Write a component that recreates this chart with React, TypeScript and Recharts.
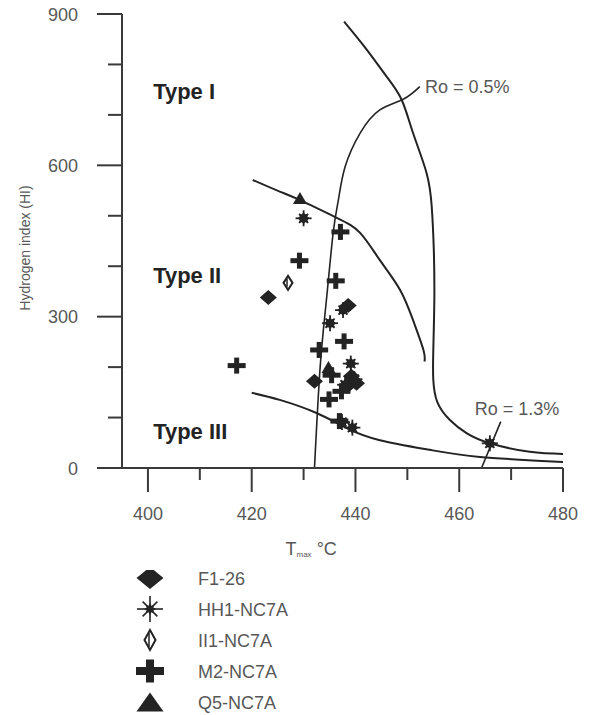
import React from "react"
import {
  ComposedChart,
  Line,
  Scatter,
  XAxis,
  YAxis,
  ReferenceDot,
} from "recharts"

// axis ticks
const X_TICKS = [400, 410, 420, 430, 440, 450, 460, 470, 480]
const Y_TICKS = [0, 100, 200, 300, 400, 500, 600, 700, 800, 900]

// boundary curves (Tmax, HI)
const typeOneCurve = [
  { x: 437.8, y: 885 }, { x: 442.2, y: 829 }, { x: 446, y: 776 }, { x: 448.9, y: 730 },
  { x: 451.1, y: 664 }, { x: 453.7, y: 585 }, { x: 454.7, y: 518 }, { x: 455.1, y: 432 },
  { x: 455.2, y: 333 }, { x: 455.0, y: 234 }, { x: 455.0, y: 175 }, { x: 455.8, y: 130 },
  { x: 458.2, y: 95 }, { x: 461.4, y: 69 }, { x: 465.9, y: 49 }, { x: 473.6, y: 32 },
  { x: 480, y: 28 },
]
const typeTwoCurve = [
  { x: 420.2, y: 571 }, { x: 425.4, y: 548 }, { x: 429.3, y: 531 }, { x: 436.4, y: 496 },
  { x: 440.9, y: 466 }, { x: 444.7, y: 412 }, { x: 448.6, y: 353 }, { x: 451.1, y: 293 },
  { x: 453.1, y: 234 }, { x: 453.3, y: 211 },
]
const typeThreeCurve = [
  { x: 420, y: 149 }, { x: 425.4, y: 135 }, { x: 432.5, y: 109 }, { x: 438.3, y: 79 },
  { x: 444.7, y: 55 }, { x: 454.3, y: 36 }, { x: 464, y: 22 }, { x: 480, y: 12 },
]
const roLowCurve = [
  { x: 432.1, y: 0 }, { x: 433.2, y: 201 }, { x: 434.4, y: 333 }, { x: 435.7, y: 466 },
  { x: 436.7, y: 531 }, { x: 438, y: 597 }, { x: 440.9, y: 664 }, { x: 444.7, y: 710 },
  { x: 449.2, y: 731 }, { x: 452.4, y: 756 },
]
const roHighLine = [{ x: 464.3, y: 0 }, { x: 468, y: 92 }]

// samples
const f1_26 = [
  { x: 423.2, y: 338 }, { x: 438.6, y: 322 }, { x: 432.1, y: 172 },
  { x: 439.2, y: 182 }, { x: 438.4, y: 162 }, { x: 440.2, y: 168 },
]
const hh1 = [
  { x: 430, y: 495 }, { x: 437.6, y: 313 }, { x: 435.1, y: 287 }, { x: 439.1, y: 207 },
  { x: 439.8, y: 176 }, { x: 438, y: 165 }, { x: 437.4, y: 91 }, { x: 439.4, y: 80 },
  { x: 465.9, y: 49 },
]
const ii1 = [{ x: 427, y: 367 }]
const m2 = [
  { x: 437.1, y: 468 }, { x: 429.2, y: 411 }, { x: 436.2, y: 371 }, { x: 437.8, y: 251 },
  { x: 433, y: 234 }, { x: 417.1, y: 203 }, { x: 435.4, y: 184 }, { x: 437.3, y: 152 },
  { x: 434.9, y: 136 }, { x: 436.9, y: 93 },
]
const q5 = [{ x: 429.3, y: 535 }, { x: 434.8, y: 200 }]

const typeLabels = [
  { text: "Type I", x: 401, y: 732 },
  { text: "Type II", x: 401, y: 367 },
  { text: "Type III", x: 401, y: 57 },
]
const roLabels = [
  { text: "Ro = 0.5%", x: 453.4, y: 743 },
  { text: "Ro = 1.3%", x: 463, y: 105 },
]

const legendNames = ["F1-26", "HH1-NC7A", "II1-NC7A", "M2-NC7A", "Q5-NC7A"]

const INK = "#232323"
const GREY = "#585858"
const FONT = "'Liberation Sans', Arial, sans-serif"

function Diamond({ cx, cy, w, h }: any) {
  return <polygon points={`${cx},${cy - h / 2} ${cx + w / 2},${cy} ${cx},${cy + h / 2} ${cx - w / 2},${cy}`} fill={INK} />
}

function HollowDiamond({ cx, cy, w, h }: any) {
  return (
    <g>
      <polygon
        points={`${cx},${cy - h / 2} ${cx + w / 2},${cy} ${cx},${cy + h / 2} ${cx - w / 2},${cy}`}
        fill="#fff"
        stroke={INK}
        strokeWidth={2}
      />
      <line x1={cx - 1} y1={cy - h / 2 + 3} x2={cx - 1} y2={cy + h / 2 - 3} stroke={INK} strokeWidth={1.5} />
    </g>
  )
}

function Plus({ cx, cy, w, h, t }: any) {
  return (
    <g fill={INK}>
      <rect x={cx - w / 2} y={cy - t / 2} width={w} height={t} />
      <rect x={cx - t / 2} y={cy - h / 2} width={t} height={h} />
    </g>
  )
}

function Triangle({ cx, cy, w, h }: any) {
  return <polygon points={`${cx},${cy - h / 2} ${cx + w / 2},${cy + h / 2} ${cx - w / 2},${cy + h / 2}`} fill={INK} />
}

function Star({ cx, cy, r, core, inner = 0.6, sw = 1.6 }: any) {
  const spokes = []
  for (let i = 0; i < 8; i++) {
    const a = (i * Math.PI) / 4
    const len = i % 2 === 0 ? r : r * 0.8
    spokes.push(
      <line key={i} x1={cx} y1={cy} x2={cx + Math.cos(a) * len} y2={cy + Math.sin(a) * len} stroke={INK} strokeWidth={sw} />
    )
  }
  const pts = []
  for (let i = 0; i < 16; i++) {
    const a = (i * Math.PI) / 8
    const rr = i % 2 === 0 ? core : core * inner
    pts.push(`${cx + Math.cos(a) * rr},${cy + Math.sin(a) * rr}`)
  }
  return (
    <g>
      {spokes}
      <polygon points={pts.join(" ")} fill={INK} />
    </g>
  )
}

function XTick({ x, y, payload }: any) {
  const major = payload.value % 20 === 0
  return (
    <g>
      <line x1={x} x2={x} y1={y} y2={y + (major ? 24 : 12)} stroke="#3a3a3a" strokeWidth={2} />
      {major && (
        <text x={x} y={y + 51.5} textAnchor="middle" fontSize={18} fill={GREY} fontFamily={FONT}>
          {payload.value}
        </text>
      )}
    </g>
  )
}

function YTick({ x, y, payload }: any) {
  const major = payload.value % 300 === 0
  return (
    <g>
      <line x1={x - (major ? 25 : 14)} x2={x} y1={y} y2={y} stroke="#3a3a3a" strokeWidth={2} />
      {major && (
        <text x={x - 44} y={y + 6.5} textAnchor="end" fontSize={18} fill={GREY} fontFamily={FONT}>
          {payload.value}
        </text>
      )}
    </g>
  )
}

const curveProps = {
  dataKey: "y",
  type: "natural" as const,
  stroke: INK,
  strokeWidth: 2,
  dot: false,
  activeDot: false,
  isAnimationActive: false,
}

function LegendMarker({ i, cx, cy }: any) {
  if (i === 0) return <Diamond cx={cx} cy={cy} w={27} h={22} />
  if (i === 1) return <Star cx={cx} cy={cy} r={13} core={6} />
  if (i === 2) return <HollowDiamond cx={cx} cy={cy} w={11} h={20} />
  if (i === 3) return <Plus cx={cx} cy={cy} w={28} h={23} t={8} />
  return <Triangle cx={cx} cy={cy} w={27} h={19} />
}

export default function App() {
  return (
    <div style={{ position: "absolute", left: 0, top: 0, width: 590, height: 715, background: "#fff" }}>
      <ComposedChart width={590} height={570} margin={{ top: 14, right: 27, bottom: 0, left: 0 }}>
        <XAxis
          type="number"
          dataKey="x"
          domain={[395, 480]}
          ticks={X_TICKS}
          allowDataOverflow
          height={102}
          tickSize={0}
          tickMargin={0}
          tickLine={false}
          axisLine={{ stroke: "#3a3a3a", strokeWidth: 2 }}
          tick={(p: any) => <XTick {...p} />}
          interval={0}
          label={{
            content: ({ viewBox }: any) => {
              const cx = viewBox.x + viewBox.width / 2 - 57
              return (
                <text x={cx} y={555} fontSize={18} fill={GREY} fontFamily={FONT}>
                  T
                  <tspan fontSize={8} dy={2}>max</tspan>
                  <tspan dy={-2}> °C</tspan>
                </text>
              )
            },
          }}
        />
        <YAxis
          type="number"
          dataKey="y"
          domain={[0, 900]}
          ticks={Y_TICKS}
          allowDataOverflow
          width={122}
          tickSize={0}
          tickMargin={0}
          tickLine={false}
          axisLine={{ stroke: "#3a3a3a", strokeWidth: 2 }}
          tick={(p: any) => <YTick {...p} />}
          interval={0}
          label={{
            content: () => (
              <text
                x={0}
                y={0}
                transform="translate(30, 248) rotate(-90)"
                textAnchor="middle"
                fontSize={14}
                fill={GREY}
                fontFamily={FONT}
              >
                Hydrogen index (HI)
              </text>
            ),
          }}
        />

        <Line data={typeOneCurve} {...curveProps} />
        <Line data={typeTwoCurve} {...curveProps} />
        <Line data={typeThreeCurve} {...curveProps} />
        <Line data={roLowCurve} {...curveProps} strokeWidth={1.6} />
        <Line data={roHighLine} {...curveProps} type="linear" strokeWidth={1.6} />

        <Scatter data={f1_26} isAnimationActive={false} shape={(p: any) => <Diamond cx={p.cx} cy={p.cy} w={17} h={15} />} />
        <Scatter data={hh1} isAnimationActive={false} shape={(p: any) => <Star cx={p.cx} cy={p.cy} r={8} core={6} inner={0.72} sw={1.8} />} />
        <Scatter data={ii1} isAnimationActive={false} shape={(p: any) => <HollowDiamond cx={p.cx} cy={p.cy} w={9} h={14} />} />
        <Scatter data={m2} isAnimationActive={false} shape={(p: any) => <Plus cx={p.cx} cy={p.cy} w={18} h={16} t={5} />} />
        <Scatter data={q5} isAnimationActive={false} shape={(p: any) => <Triangle cx={p.cx} cy={p.cy} w={14} h={12} />} />

        {typeLabels.map((l) => (
          <ReferenceDot
            key={l.text}
            x={l.x}
            y={l.y}
            r={0}
            ifOverflow="visible"
            shape={(p: any) => (
              <text x={p.cx} y={p.cy} fontSize={22} fontWeight="bold" fill={INK} fontFamily={FONT}>
                {l.text}
              </text>
            )}
          />
        ))}
        {roLabels.map((l) => (
          <ReferenceDot
            key={l.text}
            x={l.x}
            y={l.y}
            r={0}
            ifOverflow="visible"
            shape={(p: any) => (
              <text x={p.cx} y={p.cy} fontSize={18} fill={GREY} fontFamily={FONT}>
                {l.text}
              </text>
            )}
          />
        ))}
      </ComposedChart>

      <svg width={590} height={145} style={{ position: "absolute", left: 0, top: 570 }}>
        {legendNames.map((name, i) => {
          const cy = 8 + i * 31
          return (
            <g key={name}>
              <LegendMarker i={i} cx={150} cy={cy} />
              <text x={198} y={cy + 6.5} fontSize={18} fill={GREY} fontFamily={FONT}>
                {name}
              </text>
            </g>
          )
        })}
      </svg>
    </div>
  )
}
